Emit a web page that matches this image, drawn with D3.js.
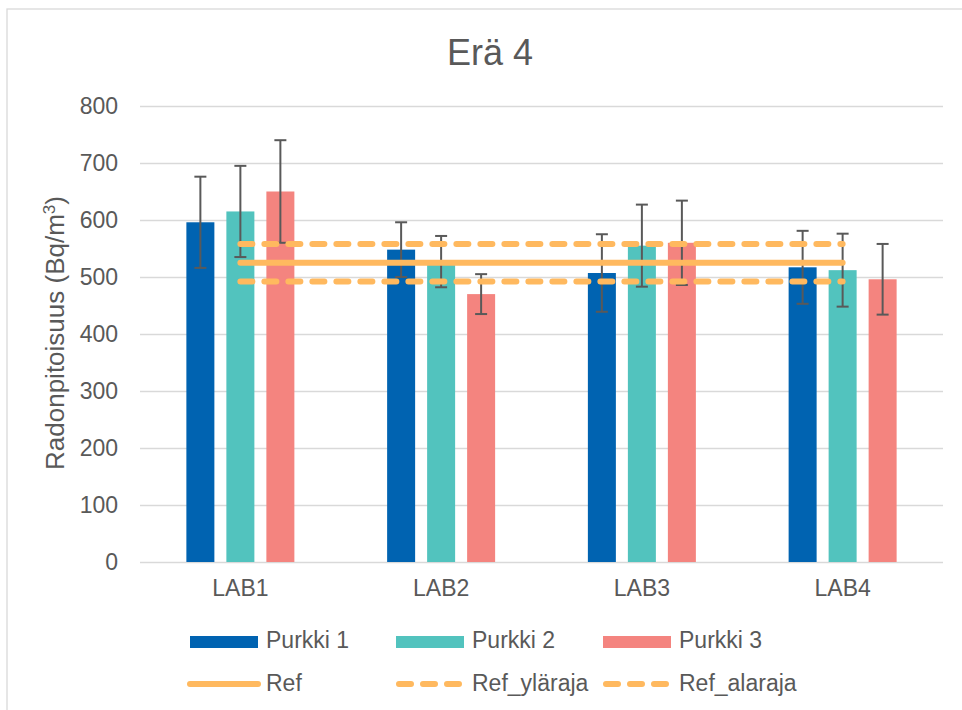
<!DOCTYPE html>
<html>
<head>
<meta charset="utf-8">
<script src="https://cdn.jsdelivr.net/npm/d3@7/dist/d3.min.js"></script>
<style>
  body { margin: 0; background: #fff; }
  svg text { font-family: "Liberation Sans", Arial, sans-serif; fill: #595959; }
</style>
</head>
<body>
<svg width="962" height="710"></svg>
<script>
// **** Data ****
var labs = ['LAB1', 'LAB2', 'LAB3', 'LAB4'];
var seriesNames = ['Purkki 1', 'Purkki 2', 'Purkki 3'];
var purkki1 = [596, 548, 507, 517];
var purkki2 = [615, 527, 555, 512];
var purkki3 = [650, 470, 560, 496];
var err1 = [80, 48, 68, 64];
var err2 = [80, 45, 72, 64];
var err3 = [90, 35, 74, 62];
var ref = [525, 525, 525, 525];
var refYlaraja = [558, 558, 558, 558];
var refAlaraja = [492, 492, 492, 492];
var yTicks = [0, 100, 200, 300, 400, 500, 600, 700, 800];

var barColors = ['#0063b1', '#52c3be', '#f4847f'];
var orange = '#ffb95f';

var barValues = [purkki1, purkki2, purkki3];
var barErrors = [err1, err2, err3];

// **** Scales ****
var xScale = d3.scaleBand().domain(labs).range([140, 943]);
var subScale = d3.scaleBand().domain(seriesNames).range([-54, 54]).paddingInner(0.3);
var yScale = d3.scaleLinear().domain([0, 800]).range([562, 106]);

function xCenter(lab) {
    return xScale(lab) + xScale.bandwidth() / 2;
}

var svg = d3.select('svg');

// chart frame
svg.append('rect')
    .attr('x', 7).attr('y', 9)
    .attr('width', 1000).attr('height', 1000)
    .style('fill', 'none')
    .style('stroke', '#d9d9d9')
    .style('stroke-width', 1.3);

// title
svg.append('text')
    .text('Erä 4')
    .attr('x', 490).attr('y', 65)
    .attr('text-anchor', 'middle')
    .style('font-size', '36px');

// gridlines + y axis
var yAxis = svg.append('g')
    .attr('transform', 'translate(140,0)')
    .call(d3.axisLeft(yScale).tickValues(yTicks).tickSize(-803).tickPadding(22));
yAxis.select('.domain').remove();
yAxis.selectAll('line').style('stroke', '#d9d9d9').style('stroke-width', 1.4);
yAxis.selectAll('text').style('font-size', '23px').style('fill', '#595959')
    .style('font-family', '"Liberation Sans", Arial, sans-serif');

svg.append('text')
    .attr('transform', 'translate(64,333) rotate(-90)')
    .attr('text-anchor', 'middle')
    .style('font-size', '26px')
    .html('Radonpitoisuus (Bq/m<tspan dy="-9" font-size="17px">3</tspan><tspan dy="9">)</tspan>');

// x axis labels
var xAxis = svg.append('g')
    .attr('transform', 'translate(0,562)')
    .call(d3.axisBottom(xScale).tickSize(0).tickPadding(18));
xAxis.select('.domain').remove();
xAxis.selectAll('text').style('font-size', '23px').style('fill', '#595959')
    .style('font-family', '"Liberation Sans", Arial, sans-serif');

// **** Bars ****
seriesNames.forEach(function(name, si) {
    var g = svg.append('g');
    labs.forEach(function(lab, i) {
        var v = barValues[si][i];
        var x0 = xCenter(lab) + subScale(name);
        g.append('rect')
            .attr('x', x0)
            .attr('y', yScale(v))
            .attr('width', subScale.bandwidth())
            .attr('height', yScale(0) - yScale(v))
            .style('fill', barColors[si]);
    });
});

// **** Error bars ****
seriesNames.forEach(function(name, si) {
    var g = svg.append('g').style('stroke', '#595959').style('stroke-width', 2);
    labs.forEach(function(lab, i) {
        var v = barValues[si][i];
        var e = barErrors[si][i];
        var cx = xCenter(lab) + subScale(name) + subScale.bandwidth() / 2;
        g.append('line')
            .attr('x1', cx).attr('x2', cx)
            .attr('y1', yScale(v + e)).attr('y2', yScale(v - e));
        [v + e, v - e].forEach(function(end) {
            g.append('line')
                .attr('x1', cx - 6).attr('x2', cx + 6)
                .attr('y1', yScale(end)).attr('y2', yScale(end));
        });
    });
});

// **** Reference lines ****
var line = d3.line()
    .x(function(d, i) { return xCenter(labs[i]); })
    .y(function(d) { return yScale(d); });

function drawRefLine(values, dashed) {
    svg.append('path')
        .datum(values)
        .attr('d', line)
        .style('fill', 'none')
        .style('stroke', orange)
        .style('stroke-width', 6)
        .style('stroke-linecap', 'round')
        .style('stroke-dasharray', dashed ? '12,12' : null);
}
drawRefLine(ref, false);
drawRefLine(refYlaraja, true);
drawRefLine(refAlaraja, true);

// **** Legend ****
var legendX = [190, 396, 603];
seriesNames.forEach(function(name, i) {
    var g = svg.append('g').attr('transform', 'translate(' + legendX[i] + ',0)');
    g.append('rect')
        .attr('x', 0).attr('y', 636)
        .attr('width', 68).attr('height', 12)
        .style('fill', barColors[i]);
    g.append('text').text(name)
        .attr('x', 76).attr('y', 648)
        .style('font-size', '23px');
});

var lineLegend = ['Ref', 'Ref_yläraja', 'Ref_alaraja'];
lineLegend.forEach(function(name, i) {
    var g = svg.append('g').attr('transform', 'translate(' + legendX[i] + ',0)');
    g.append('line')
        .attr('x1', i === 0 ? 0 : 3).attr('x2', i === 0 ? 68 : 63)
        .attr('y1', 684).attr('y2', 684)
        .style('stroke', orange)
        .style('stroke-width', 6)
        .style('stroke-linecap', 'round')
        .style('stroke-dasharray', i === 0 ? null : '12,12');
    g.append('text').text(name)
        .attr('x', 76).attr('y', 691)
        .style('font-size', '23px');
});
</script>
</body>
</html>
